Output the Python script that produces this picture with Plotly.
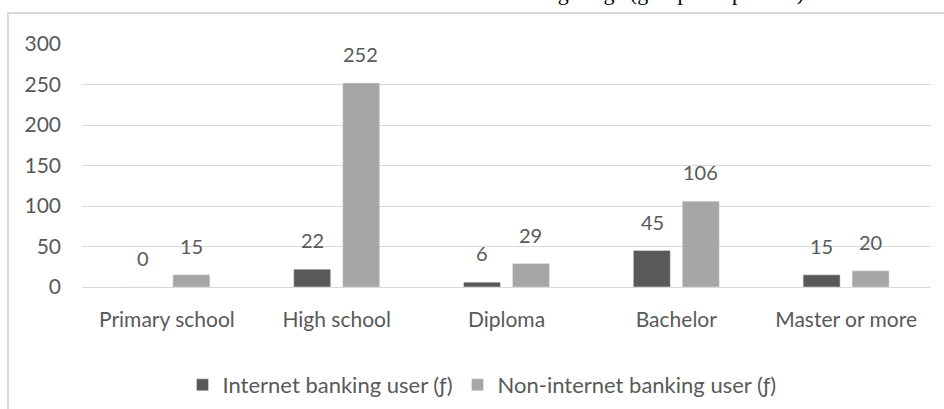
import plotly.graph_objects as go

categories = ["Primary school", "High school", "Diploma", "Bachelor", "Master or more"]
internet_users = [0, 22, 6, 45, 15]
non_internet_users = [15, 252, 29, 106, 20]
y_ticks = [0, 50, 100, 150, 200, 250, 300]
title_text = "Internet banking usage (group comparison)"

FONT = "Lato"
TXT = "#595959"

fig = go.Figure()
fig.add_trace(go.Bar(
    x=categories, y=internet_users, name="Internet banking user (ƒ)",
    marker_color="#595959",
))
fig.add_trace(go.Bar(
    x=categories, y=non_internet_users, name="Non-internet banking user (ƒ)",
    marker_color="#a6a6a6",
))

W, H = 944, 409
L, R, T, B = 82, 13, 44, 122
pw, ph = W - L - R, H - T - B

def px_x(p):
    return (p - L) / pw

def px_y(p):
    return (H - B - p) / ph

annotations = [dict(text=title_text, xref="paper", yref="paper",
                    x=px_x(806), xanchor="right", y=1, yanchor="bottom",
                    yshift=37, showarrow=False,
                    font=dict(family="Liberation Serif", size=22, color="#000000"))]

for series, shift in ((internet_users, -24.25), (non_internet_users, 24.25)):
    for cat, val in zip(categories, series):
        annotations.append(dict(
            x=cat, y=val, xref="x", yref="y", text=str(val), showarrow=False,
            xshift=shift, yanchor="bottom", yshift=15,
            font=dict(family=FONT, size=20, color=TXT)))

fig.update_layout(
    width=W, height=H,
    margin=dict(l=L, r=R, t=T, b=B, autoexpand=False),
    paper_bgcolor="white", plot_bgcolor="white",
    barmode="group", bargap=0.423, bargroupgap=0.245,
    font=dict(family=FONT, color=TXT, size=18),
    showlegend=True,
    legend=dict(orientation="h", x=px_x(482), xanchor="center",
                y=px_y(385), yanchor="middle",
                font=dict(family=FONT, size=22, color=TXT),
                itemwidth=30, traceorder="normal"),
    xaxis=dict(showgrid=False, showline=True, linecolor="#d9d9d9", linewidth=1,
               ticks="", tickfont=dict(family=FONT, size=21, color=TXT),
               ticklabelstandoff=14),
    yaxis=dict(range=[0, 300], tickvals=y_ticks, showgrid=True,
               gridcolor="#d9d9d9", gridwidth=1, zeroline=False,
               tickfont=dict(family=FONT, size=21, color=TXT),
               ticklabelstandoff=20),
    shapes=[dict(type="path", xref="paper", yref="paper",
                 path=f"M {px_x(8)} {px_y(409)} L {px_x(8)} {px_y(13)} L {px_x(944)} {px_y(13)}",
                 line=dict(color="#d9d9d9", width=2))],
    annotations=annotations,
)

fig.write_html(
    "out.html",
    config={"displayModeBar": False},
    post_script="document.body.style.margin='0';document.body.style.overflow='hidden';",
)
